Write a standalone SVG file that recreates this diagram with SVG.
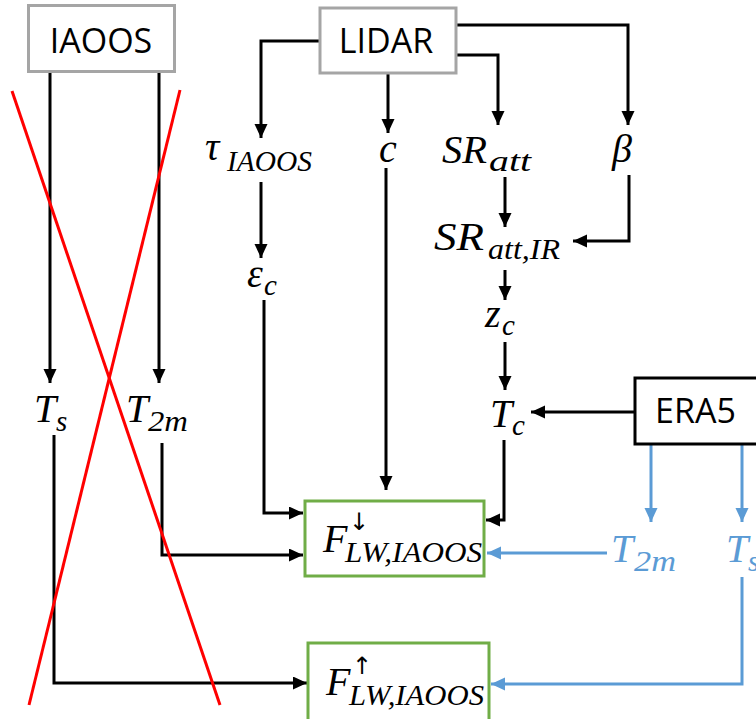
<svg xmlns="http://www.w3.org/2000/svg" width="756" height="719" viewBox="0 0 756 719">
<defs>
<marker id="ab" markerUnits="userSpaceOnUse" markerWidth="15" markerHeight="14" refX="14" refY="6.5" orient="auto"><path d="M0,0 L14,6.5 L0,13 z" fill="#000"/></marker>
<marker id="abl" markerUnits="userSpaceOnUse" markerWidth="15" markerHeight="14" refX="14" refY="6.5" orient="auto"><path d="M0,0 L14,6.5 L0,13 z" fill="#5B9BD5"/></marker>
</defs>
<style>
.box{fill:#fff;stroke-width:3}
.gray{stroke:#A5A5A5}
.blk{stroke:#000}
.grn{stroke:#70AD47}
.lbl{font-family:"Open Sans","Liberation Sans",sans-serif;font-size:34px;fill:#000}
.m{font-family:"Liberation Serif","DejaVu Serif",serif;font-style:italic;font-size:40px;fill:#000}
.s{font-family:"Liberation Serif","DejaVu Serif",serif;font-style:italic;font-size:29px;fill:#000}
.ar{font-family:"DejaVu Sans","Liberation Serif",sans-serif;font-size:24px;fill:#000}
.blue{fill:#5B9BD5}
.c{fill:none;stroke:#000;stroke-width:3;marker-end:url(#ab)}
.cb{fill:none;stroke:#5B9BD5;stroke-width:3;marker-end:url(#abl)}
.red{stroke:#FF0000;stroke-width:3}
</style>
<rect width="756" height="719" fill="#fff"/>
<g id="connectors">
<path class="c" d="M50,73 V383"/>
<path class="c" d="M159,73 V383"/>
<path class="c" d="M320,41 H261 V138"/>
<path class="c" d="M388,73 V133"/>
<path class="c" d="M456,55 H498 V125"/>
<path class="c" d="M456,25 H628 V125"/>
<path class="c" d="M261,182 V258"/>
<path class="c" d="M505,177 V227"/>
<path class="c" d="M629,175 V241 H573"/>
<path class="c" d="M505,270 V300"/>
<path class="c" d="M505,342 V390"/>
<path class="c" d="M634,412 H531"/>
<path class="c" d="M504,440 V520 H486"/>
<path class="c" d="M386,168 V490"/>
<path class="c" d="M264,300 V513 H303"/>
<path class="c" d="M162,443 V555 H303"/>
<path class="c" d="M54,435 V683 H307"/>
<path class="cb" d="M651,445 V522"/>
<path class="cb" d="M742,445 V522"/>
<path class="cb" d="M607,553 H487"/>
<path class="cb" d="M742,577 V684 H491"/>
</g>
<g id="IAOOS"><rect class="box gray" x="28.5" y="5.5" width="146" height="66"/><text class="lbl" x="101" y="53" text-anchor="middle">IAOOS</text></g>
<g id="LIDAR"><rect class="box gray" x="320" y="8" width="136" height="65"/><text class="lbl" x="386" y="53" text-anchor="middle">LIDAR</text></g>
<g id="ERA5"><rect class="box blk" x="635" y="378" width="140" height="66"/><text class="lbl" x="655" y="423">ERA5</text></g>
<g id="F_down"><rect class="box grn" x="305" y="501" width="179" height="75"/><text class="m" x="323" y="552">F</text><text class="ar" x="349" y="530">↓</text><text class="s" x="345" y="562" textLength="137" lengthAdjust="spacingAndGlyphs">LW,IAOOS</text></g>
<g id="F_up"><rect class="box grn" x="308" y="643" width="181" height="80"/><text class="m" x="326" y="695">F</text><text class="ar" x="352" y="674">↑</text><text class="s" x="349" y="705" textLength="135" lengthAdjust="spacingAndGlyphs">LW,IAOOS</text></g>
<g id="tau"><text class="m" x="205" y="160">τ</text><text class="s" x="227" y="171" textLength="85" lengthAdjust="spacingAndGlyphs">IAOOS</text></g>
<g id="c"><text class="m" x="379" y="162">c</text></g>
<g id="SRatt"><text class="m" x="442" y="163" textLength="45" lengthAdjust="spacingAndGlyphs">SR</text><text class="s" x="489" y="171" textLength="42" lengthAdjust="spacingAndGlyphs">att</text></g>
<g id="beta"><text class="m" x="612" y="162">β</text></g>
<g id="SRattIR"><text class="m" x="434" y="250" textLength="50" lengthAdjust="spacingAndGlyphs">SR</text><text class="s" x="488" y="259" textLength="72" lengthAdjust="spacingAndGlyphs">att,IR</text></g>
<g id="eps"><text class="m" x="247" y="287">ε</text><text class="s" x="264" y="295">c</text></g>
<g id="zc"><text class="m" x="485" y="327">z</text><text class="s" x="502" y="335">c</text></g>
<g id="Tc"><text class="m" x="490" y="427">T</text><text class="s" x="512" y="435">c</text></g>
<g id="Ts_iaoos"><text class="m" x="34" y="422">T</text><text class="s" x="56" y="431">s</text></g>
<g id="T2m_iaoos"><text class="m" x="126" y="422">T</text><text class="s" x="148" y="431" textLength="40" lengthAdjust="spacingAndGlyphs">2m</text></g>
<g id="T2m_era5"><text class="m blue" x="611" y="562">T</text><text class="s blue" x="634" y="571" textLength="42" lengthAdjust="spacingAndGlyphs">2m</text></g>
<g id="Ts_era5"><text class="m blue" x="726" y="562">T</text><text class="s blue" x="748" y="571">s</text></g>
<g id="cross"><line class="red" x1="12" y1="91" x2="220" y2="705"/><line class="red" x1="180" y1="90" x2="29" y2="705"/></g>
</svg>
